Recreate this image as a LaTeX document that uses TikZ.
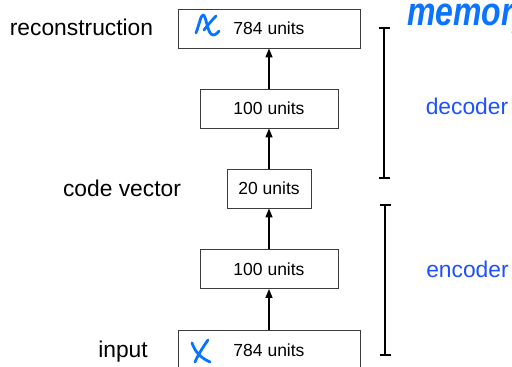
\documentclass[tikz,border=0pt]{standalone}
\usepackage{fontspec}
\setmainfont{Liberation Sans}
\usetikzlibrary{arrows.meta}
\definecolor{lblblue}{RGB}{30,80,255}
\definecolor{handblue}{RGB}{10,115,255}
\definecolor{boxline}{RGB}{60,60,60}
\begin{document}
\begin{tikzpicture}[x=1pt,y=1pt,
  box/.style={draw=boxline, line width=0.9pt, minimum height=39pt, inner sep=0pt, font=\fontsize{17.5}{20}\selectfont},
  side/.style={font=\fontsize{22.8}{26}\selectfont, anchor=base},
  lbl/.style={side, text=lblblue},
  arr/.style={-{Triangle[length=9pt,width=7pt]}, line width=1.4pt},
  brk/.style={line width=2pt, {Bar[width=11pt]}-{Bar[width=11pt]}},
  hand/.style={draw=handblue, line width=2.8pt, line cap=round, line join=round}]
\useasboundingbox (0,0) rectangle (512,367);
\fill[white] (0,0) rectangle (512,367);
\node[box, minimum width=182pt] (rec) at (269,338.5) {784 units};
\node[box, minimum width=138pt] (dec) at (269,258.5) {100 units};
\node[box, minimum width=84pt] (code) at (269,178.5) {20 units};
\node[box, minimum width=138pt] (enc) at (269,98) {100 units};
\node[box, minimum width=182pt, minimum height=40pt] (inp) at (269,17) {784 units};
\draw[arr] (inp.north) -- (enc.south);
\draw[arr] (enc.north) -- (code.south);
\draw[arr] (code.north) -- (dec.south);
\draw[arr] (dec.north) -- (rec.south);
\node[side] (lrec) at (81.5,331) {reconstruction};
\node[side] (lcode) at (122,170) {code vector};
\node[side] (linp) at (123,9) {input};
\node[lbl] (ldec) at (467,252) {decoder};
\node[lbl] (lenc) at (467.5,89) {encoder};
\coordinate (dt) at (384,340);
\coordinate (db) at (384,188);
\coordinate (et) at (385,163);
\coordinate (eb) at (385,11);
\draw[brk] (dt) -- (db);
\draw[brk] (et) -- (eb);
\node[font=\fontsize{40}{40}\selectfont\bfseries\itshape, text=handblue, anchor=base west, xscale=0.8, transform shape, inner sep=0pt] (mem) at (407,341) {memory};
\draw[hand] (196,334) .. controls (199,342) and (201,352) .. (203,352) .. controls (206,352) and (207,337) .. (211,333) .. controls (213,331) and (216,332) .. (219,336);
\draw[hand] (216,351) .. controls (212,347) and (208,342) .. (204,337);
\draw[hand] (192,24) .. controls (195,16) and (199,10) .. (210,5);
\draw[hand] (208,27) .. controls (203,20) and (198,12) .. (195,5);
\end{tikzpicture}
\end{document}
